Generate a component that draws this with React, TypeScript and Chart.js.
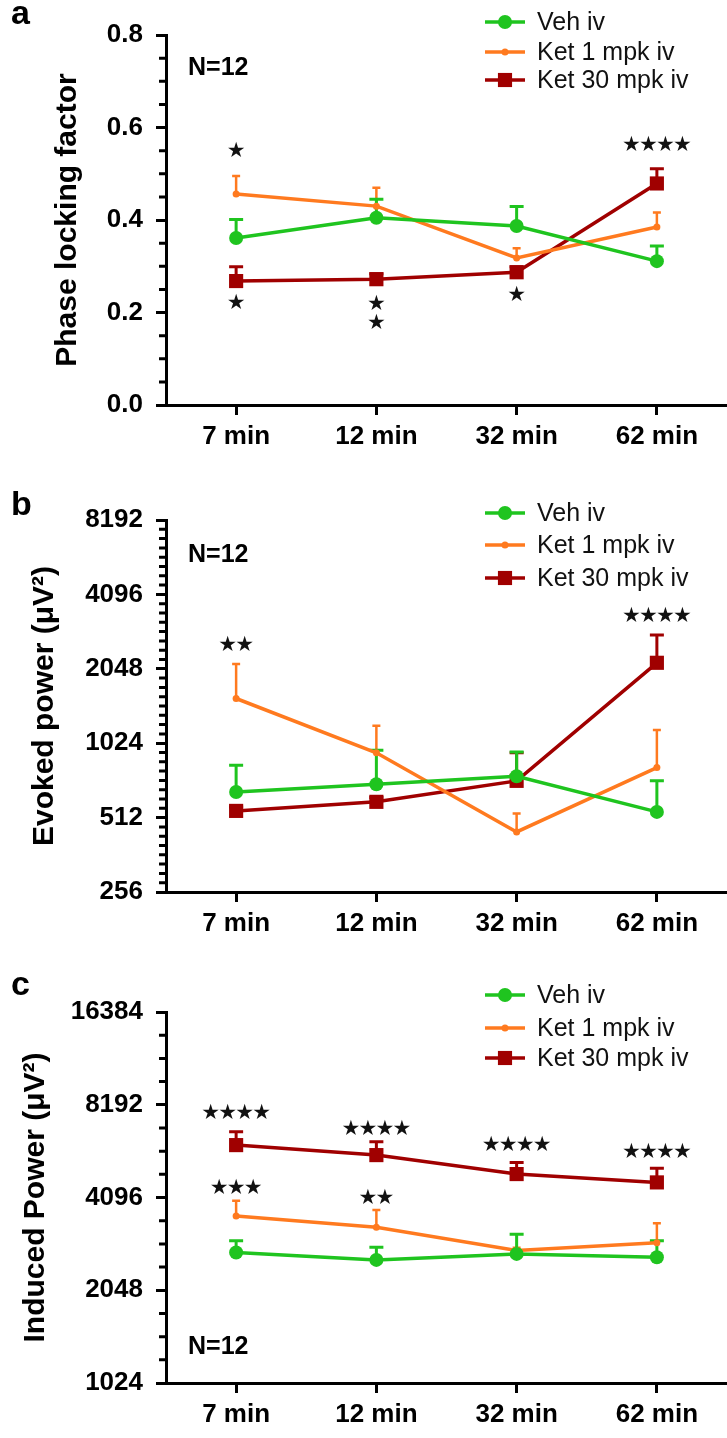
import React, { useEffect, useRef } from 'react';
import { Chart, registerables } from 'chart.js';

Chart.register(...registerables);

const FONT = '"Liberation Sans", Arial, sans-serif';
const AXIS_X = 166;
const WIDTH = 727;
const CANVAS_W = 737;

const categories = ['7 min', '12 min', '32 min', '62 min'];
const seriesNames = ['Veh iv', 'Ket 1 mpk iv', 'Ket 30 mpk iv'];
const seriesColors = ['#1fc41f', '#ff7a1f', '#a00000'];
const pointStyles = ['circle', 'circle', 'rect'];
const pointRadii = [7, 3.5, 10];
const capHalf = [7, 4, 7];
const errWidths = [3, 2.5, 3];

// Panel a: phase locking factor
const plfTicks = [0, 0.2, 0.4, 0.6, 0.8];
const plfVeh = [0.361, 0.405, 0.387, 0.311];
const plfVehErr = [0.04, 0.04, 0.042, 0.033];
const plfKet1 = [0.456, 0.43, 0.318, 0.385];
const plfKet1Err = [0.039, 0.04, 0.021, 0.031];
const plfKet30 = [0.268, 0.272, 0.287, 0.479];
const plfKet30Err = [0.031, 0.012, 0.012, 0.032];
const plfStarCat = [0, 3, 0, 1, 1, 2];
const plfStarVal = [0.549, 0.56, 0.219, 0.217, 0.177, 0.237];
const plfStarCount = [1, 4, 1, 1, 1, 1];

// Panel b: evoked power
const evTicks = [256, 512, 1024, 2048, 4096, 8192];
const evVeh = [650, 699, 753, 540];
const evVehErr = [184, 260, 191, 181];
const evKet1 = [1553, 936, 448, 816];
const evKet1Err = [587, 268, 84, 341];
const evKet30 = [545, 593, 721, 2166];
const evKet30Err = [20, 25, 215, 637];
const evStarCat = [0, 3];
const evStarVal = [2555, 3330];
const evStarCount = [2, 4];

// Panel c: induced power
const inTicks = [1024, 2048, 4096, 8192, 16384];
const inVeh = [2714, 2569, 2687, 2620];
const inVehErr = [249, 254, 426, 347];
const inKet1 = [3567, 3281, 2755, 2923];
const inKet1Err = [433, 449, 60, 454];
const inKet30 = [6059, 5623, 4880, 4585];
const inKet30Err = [635, 589, 442, 508];
const inStarCat = [0, 1, 2, 3, 0, 1];
const inStarVal = [7672, 6826, 6059, 5720, 4385, 4070];
const inStarCount = [4, 4, 4, 4, 3, 2];

type Panel = {
  top: number;
  height: number;
  padLeft: number;
  padTop: number;
  xHeight: number;
  yType: 'linear' | 'logarithmic';
  majorTicks: number[];
  minorPer: number;
  title: string;
  series: number[][];
  errors: number[][];
  starCat: number[];
  starVal: number[];
  starCount: number[];
  legendY: number[];
  nY: number;
  letter: string;
  letterY: number;
};

const panels: Panel[] = [
  {
    top: 0, height: 460, padLeft: 50, padTop: 35, xHeight: 55,
    yType: 'linear', majorTicks: plfTicks, minorPer: 3,
    title: 'Phase locking factor',
    series: [plfVeh, plfKet1, plfKet30], errors: [plfVehErr, plfKet1Err, plfKet30Err],
    starCat: plfStarCat, starVal: plfStarVal, starCount: plfStarCount,
    legendY: [22, 52, 80], nY: 68, letter: 'a', letterY: 24,
  },
  {
    top: 460, height: 495, padLeft: 27, padTop: 60, xHeight: 63,
    yType: 'logarithmic', majorTicks: evTicks, minorPer: 7,
    title: 'Evoked power (\u03bcV\u00b2)',
    series: [evVeh, evKet1, evKet30], errors: [evVehErr, evKet1Err, evKet30Err],
    starCat: evStarCat, starVal: evStarVal, starCount: evStarCount,
    legendY: [53, 85, 118], nY: 95, letter: 'b', letterY: 55,
  },
  {
    top: 955, height: 483, padLeft: 18, padTop: 57, xHeight: 55,
    yType: 'logarithmic', majorTicks: inTicks, minorPer: 3,
    title: 'Induced Power (\u03bcV\u00b2)',
    series: [inVeh, inKet1, inKet30], errors: [inVehErr, inKet1Err, inKet30Err],
    starCat: inStarCat, starVal: inStarVal, starCount: inStarCount,
    legendY: [40, 73, 103], nY: 392, letter: 'c', letterY: 40,
  },
];

function minorTicks(p: Panel): number[] {
  const out: number[] = [];
  for (let j = 0; j < p.majorTicks.length - 1; j++) {
    const a = p.majorTicks[j];
    const b = p.majorTicks[j + 1];
    for (let k = 1; k <= p.minorPer; k++) {
      const f = k / (p.minorPer + 1);
      out.push(p.yType === 'linear' ? a + (b - a) * f : a * Math.pow(b / a, f));
    }
  }
  return out;
}

function drawMarker(ctx: CanvasRenderingContext2D, k: number, x: number, y: number) {
  ctx.fillStyle = seriesColors[k];
  const r = pointRadii[k];
  if (pointStyles[k] === 'rect') {
    const s = r / Math.SQRT2;
    ctx.fillRect(x - s, y - s, 2 * s, 2 * s);
  } else {
    ctx.beginPath();
    ctx.arc(x, y, r, 0, Math.PI * 2);
    ctx.fill();
  }
}

function decoPlugin(p: Panel) {
  return {
    id: 'deco',
    beforeDatasetsDraw(chart: any) {
      const ctx: CanvasRenderingContext2D = chart.ctx;
      const xs = chart.scales.x;
      const ys = chart.scales.y;
      ctx.save();
      for (let k = p.series.length - 1; k >= 0; k--) {
        ctx.strokeStyle = seriesColors[k];
        ctx.lineWidth = errWidths[k];
        p.series[k].forEach((v, i) => {
          const x = xs.getPixelForValue(i);
          const y0 = ys.getPixelForValue(v);
          const y1 = ys.getPixelForValue(v + p.errors[k][i]);
          ctx.beginPath();
          ctx.moveTo(x, y0);
          ctx.lineTo(x, y1);
          ctx.moveTo(x - capHalf[k], y1);
          ctx.lineTo(x + capHalf[k], y1);
          ctx.stroke();
        });
      }
      ctx.restore();
    },
    afterDraw(chart: any) {
      const ctx: CanvasRenderingContext2D = chart.ctx;
      const xs = chart.scales.x;
      const ys = chart.scales.y;
      const left = ys.right;
      ctx.save();
      // minor ticks
      ctx.strokeStyle = '#000';
      ctx.lineWidth = 3;
      ctx.beginPath();
      minorTicks(p).forEach((v) => {
        const y = ys.getPixelForValue(v);
        ctx.moveTo(left - 7, y);
        ctx.lineTo(left, y);
      });
      ctx.stroke();
      // significance stars
      ctx.fillStyle = '#111';
      ctx.font = `21px "DejaVu Sans", sans-serif`;
      ctx.textAlign = 'center';
      ctx.textBaseline = 'middle';
      p.starCat.forEach((c, j) => {
        const x = xs.getPixelForValue(c);
        const y = ys.getPixelForValue(p.starVal[j]);
        const n = p.starCount[j];
        const pitch = 17;
        for (let s = 0; s < n; s++) {
          ctx.fillText('\u2605', x + (s - (n - 1) / 2) * pitch, y);
        }
      });
      // legend
      const lx0 = 485;
      const lx1 = 525;
      p.legendY.forEach((ly, k) => {
        ctx.strokeStyle = seriesColors[k];
        ctx.lineWidth = 3.5;
        ctx.beginPath();
        ctx.moveTo(lx0, ly);
        ctx.lineTo(lx1, ly);
        ctx.stroke();
        drawMarker(ctx, k, (lx0 + lx1) / 2, ly);
        ctx.fillStyle = '#111';
        ctx.font = `25px ${FONT}`;
        ctx.textAlign = 'left';
        ctx.textBaseline = 'middle';
        ctx.fillText(seriesNames[k], 537, ly + 1);
      });
      // N=12
      ctx.fillStyle = '#000';
      ctx.font = `bold 25px ${FONT}`;
      ctx.textAlign = 'left';
      ctx.textBaseline = 'middle';
      ctx.fillText('N=12', left + 22, p.nY);
      // panel letter
      ctx.font = `bold 34px ${FONT}`;
      ctx.textBaseline = 'alphabetic';
      ctx.fillText(p.letter, 11, p.letterY);
      ctx.restore();
    },
  };
}

function makeConfig(p: Panel): any {
  return {
    type: 'line',
    data: {
      labels: categories,
      datasets: p.series.map((vals, k) => ({
        label: seriesNames[k],
        data: vals,
        borderColor: seriesColors[k],
        backgroundColor: seriesColors[k],
        pointBackgroundColor: seriesColors[k],
        pointBorderColor: seriesColors[k],
        pointBorderWidth: 0,
        borderWidth: 3.5,
        pointStyle: pointStyles[k],
        pointRadius: pointRadii[k],
        tension: 0,
        fill: false,
      })),
    },
    options: {
      responsive: false,
      maintainAspectRatio: false,
      animation: false,
      events: [],
      layout: { padding: { left: p.padLeft, top: p.padTop, right: 0, bottom: 0 } },
      plugins: { legend: { display: false }, tooltip: { enabled: false } },
      scales: {
        x: {
          type: 'category',
          offset: true,
          grid: {
            display: true, drawOnChartArea: false, drawTicks: true, offset: false,
            tickLength: 10, tickWidth: 3, tickColor: '#000',
          },
          border: { display: true, color: '#000', width: 3 },
          ticks: {
            color: '#000', autoSkip: false, maxRotation: 0, padding: 6,
            font: { family: FONT, size: 26, weight: 'bold' },
          },
          afterFit: (s: any) => {
            s.height = p.xHeight;
          },
        },
        y: {
          type: p.yType,
          min: p.majorTicks[0],
          max: p.majorTicks[p.majorTicks.length - 1],
          afterBuildTicks: (s: any) => { s.ticks = p.majorTicks.map((v) => ({ value: v })); },
          afterFit: (s: any) => { s.width = AXIS_X - p.padLeft; },
          grid: {
            display: true, drawOnChartArea: false, drawTicks: true,
            tickLength: 10, tickWidth: 3, tickColor: '#000',
          },
          border: { display: true, color: '#000', width: 3 },
          ticks: {
            color: '#000', autoSkip: false, padding: 13,
            font: { family: FONT, size: 26, weight: 'bold' },
            callback: (v: any) => (p.yType === 'linear' ? Number(v).toFixed(1) : String(Math.round(Number(v)))),
          },
          title: {
            display: true, text: p.title, color: '#000', padding: 0,
            font: { family: FONT, size: 30, weight: 'bold' },
          },
        },
      },
    },
    plugins: [decoPlugin(p)],
  };
}

function PanelChart({ p }: { p: Panel }) {
  const ref = useRef<HTMLCanvasElement | null>(null);
  useEffect(() => {
    if (!ref.current) return;
    const chart = new Chart(ref.current, makeConfig(p));
    return () => chart.destroy();
  }, [p]);
  return (
    <canvas
      ref={ref}
      width={CANVAS_W}
      height={p.height}
      style={{ position: 'absolute', left: 0, top: p.top, width: CANVAS_W, height: p.height }}
    />
  );
}

export default function App() {
  return (
    <div
      style={{
        position: 'absolute', left: 0, top: 0, width: WIDTH, height: 1438,
        overflow: 'hidden', background: '#fff',
      }}
    >
      {panels.map((p) => (
        <PanelChart key={p.letter} p={p} />
      ))}
    </div>
  );
}
